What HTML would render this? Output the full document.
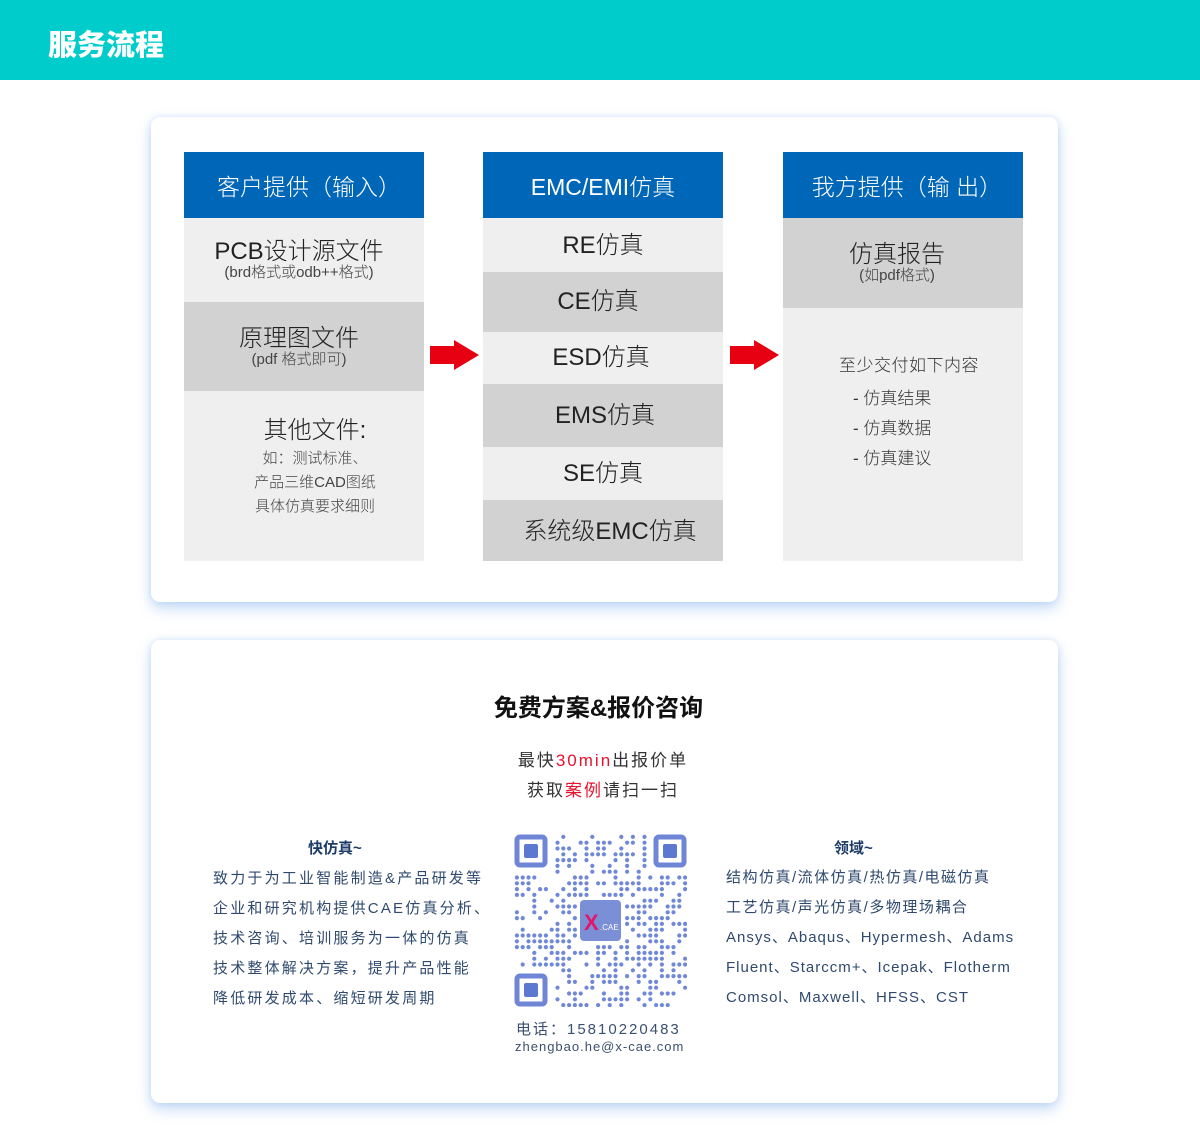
<!DOCTYPE html>
<html><head><meta charset="utf-8">
<style>
*{margin:0;padding:0;box-sizing:border-box}
body{width:1200px;height:1146px;background:#fff;position:relative;overflow:hidden;font-family:"Liberation Sans","Noto Sans CJK SC",sans-serif;}
.a{position:absolute}
.hdr{left:0;top:0;width:1200px;height:80px;background:#00cccc}
.hdr span{position:absolute;left:48px;top:22px;font-size:29px;font-weight:900;color:#fff;letter-spacing:0px}
.card{background:#fff;border-radius:9px;box-shadow:0 6px 14px rgba(120,170,235,.45),0 0 6px rgba(160,195,240,.35)}
.box{text-align:center;color:#333;font-weight:300}
.h{background:#0066b8;color:#fff;font-size:23px;font-weight:300;display:flex;align-items:center;justify-content:center}
.l{background:#efefef}.d{background:#d2d2d2}
.c{display:flex;flex-direction:column;align-items:center;justify-content:center}
.big{font-size:24px;line-height:26px;color:#222}
.sm{font-size:15px;line-height:16px;color:#444}
.txt{font-size:15px;color:#2f4a6e;line-height:30px}
</style></head><body>
<div class="a hdr"><span>服务流程</span></div>

<div class="a card" style="left:151px;top:117px;width:907px;height:485px"></div>
<div class="a card" style="left:151px;top:640px;width:907px;height:463px"></div>

<!-- col1 -->
<div class="a h" style="left:184px;top:152px;width:240px;height:66px;padding-left:10px">客户提供（输入）</div>
<div class="a box l c" style="left:184px;top:218px;width:240px;height:84px;padding-right:10px"><div class="big">PCB设计源文件</div><div class="sm">(brd格式或odb++格式)</div></div>
<div class="a box d c" style="left:184px;top:302px;width:240px;height:89px;padding-right:10px"><div class="big">原理图文件</div><div class="sm">(pdf 格式即可)</div></div>
<div class="a box l" style="left:184px;top:391px;width:240px;height:170px;padding-top:24px;padding-left:22px"><div class="big" style="line-height:32px">其他文件:</div><div class="sm" style="line-height:24px">如：测试标准、<br>产品三维CAD图纸<br>具体仿真要求细则</div></div>

<!-- col2 -->
<div class="a h" style="left:483px;top:152px;width:240px;height:66px">EMC/EMI仿真</div>
<div class="a box l c big" style="left:483px;top:218px;width:240px;height:54px;padding-top:2px">RE仿真</div>
<div class="a box d c big" style="left:483px;top:272px;width:240px;height:60px;padding-right:10px">CE仿真</div>
<div class="a box l c big" style="left:483px;top:332px;width:240px;height:52px;padding-right:4px">ESD仿真</div>
<div class="a box d c big" style="left:483px;top:384px;width:240px;height:63px;padding-left:4px">EMS仿真</div>
<div class="a box l c big" style="left:483px;top:447px;width:240px;height:53px">SE仿真</div>
<div class="a box d c big" style="left:483px;top:500px;width:240px;height:61px;padding-left:14px;padding-top:2px">系统级EMC仿真</div>

<!-- col3 -->
<div class="a h" style="left:783px;top:152px;width:240px;height:66px;padding-left:8px">我方提供（输 出）</div>
<div class="a box d c" style="left:783px;top:218px;width:240px;height:90px;padding-right:12px"><div class="big">仿真报告</div><div class="sm">(如pdf格式)</div></div>
<div class="a box l" style="left:783px;top:308px;width:240px;height:253px"></div>
<div class="a" style="left:839px;top:351px;font-size:17px;color:#333;font-weight:300;letter-spacing:0.5px">至少交付如下内容</div>
<div class="a" style="left:853px;top:384px;font-size:17px;color:#333;line-height:30px;font-weight:300">- 仿真结果<br>- 仿真数据<br>- 仿真建议</div>

<!-- arrows -->
<svg class="a" style="left:430px;top:340px" width="50" height="31"><polygon points="0,6 24,6 24,0 49,15 24,30 24,24 0,24" fill="#e60012"/></svg>
<svg class="a" style="left:730px;top:340px" width="50" height="31"><polygon points="0,6 24,6 24,0 49,15 24,30 24,24 0,24" fill="#e60012"/></svg>

<!-- card2 -->
<div class="a" style="left:0;top:688px;width:1197px;text-align:center;font-size:24px;font-weight:bold;color:#111">免费方案&amp;报价咨询</div>
<div class="a" style="left:0;top:746px;width:1206px;text-align:center;font-size:17px;color:#333;letter-spacing:2px;line-height:30px">最快<span style="color:#e8112d">30min</span>出报价单<br>获取<span style="color:#e8112d">案例</span>请扫一扫</div>

<div class="a" style="left:308px;top:837px;font-size:15px;font-weight:bold;color:#1d3d68">快仿真~</div>
<div class="a txt" style="left:213px;top:864px;letter-spacing:2.2px">致力于为工业智能制造&amp;产品研发等<br>企业和研究机构提供CAE仿真分析、<br>技术咨询、培训服务为一体的仿真<br>技术整体解决方案，提升产品性能<br>降低研发成本、缩短研发周期</div>

<div class="a" style="left:834px;top:837px;font-size:15px;font-weight:bold;color:#1d3d68">领域~</div>
<div class="a txt" style="left:726px;top:863px;letter-spacing:1.5px">结构仿真/流体仿真/热仿真/电磁仿真<br>工艺仿真/声光仿真/多物理场耦合<br><span style="letter-spacing:1px">Ansys、Abaqus、Hypermesh、Adams<br>Fluent、Starccm+、Icepak、Flotherm<br>Comsol、Maxwell、HFSS、CST</span></div>

<svg class="a" id="qr" style="left:514px;top:834px" width="173" height="173" viewBox="0 0 173 173">
<g fill="none" stroke="#6f86d6" stroke-width="5"><rect x="3" y="3" width="28" height="28" rx="3"/><rect x="142" y="3" width="28" height="28" rx="3"/><rect x="3" y="142" width="28" height="28" rx="3"/></g>
<g fill="#5d78d0"><rect x="10" y="10" width="14" height="14" rx="2"/><rect x="149" y="10" width="14" height="14" rx="2"/><rect x="10" y="149" width="14" height="14" rx="2"/></g>
<g id="dots" fill="#7088d8"></g>
<rect x="66" y="66" width="41" height="41" rx="4" fill="#7b8fd6"/>
<text x="70" y="96" font-size="22" font-weight="bold" fill="#e0186c" font-family="Liberation Sans">X</text>
<text x="86" y="96" font-size="8" fill="#fff" font-family="Liberation Sans">.CAE</text>
</svg>
<script>
(function(){var g=document.getElementById('dots'),s=12345,h='';function r(){s=(s*1103515245+12345)%2147483648;return s/2147483648;}
for(var y=0;y<30;y++)for(var x=0;x<30;x++){var px=x*5.8+2.9,py=y*5.8+2.9;
if((x<7&&y<7)||(x>22&&y<7)||(x<7&&y>22))continue;if(x>=11&&x<19&&y>=11&&y<19)continue;
if(r()<0.5)h+='<circle cx="'+px.toFixed(1)+'" cy="'+py.toFixed(1)+'" r="2.1"/>';}
g.innerHTML=h;})();
</script>
<div class="a" style="left:516px;top:1018px;font-size:15px;color:#3a5070;letter-spacing:2px">电话：15810220483</div>
<div class="a" style="left:515px;top:1039px;font-size:13px;color:#3a5070;letter-spacing:1px">zhengbao.he@x-cae.com</div>
</body></html>
